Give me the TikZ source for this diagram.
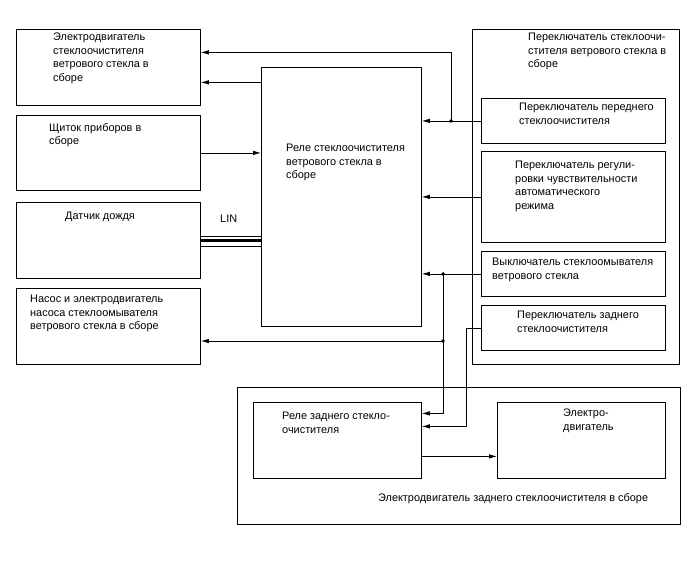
\documentclass[tikz,border=0pt]{standalone}
\usepackage{fontspec}
\setmainfont{Liberation Sans}
\usetikzlibrary{arrows.meta}

\begin{document}
\begin{tikzpicture}[x=1pt, y=-1pt,
  box/.style={draw, line width=0.8pt, anchor=north west, inner sep=0pt},
  txt/.style={anchor=north west, align=left, inner sep=0pt, yshift=-2pt,
              font=\fontsize{10.9}{13.4}\selectfont,
              execute at begin node=\strut},
  wire/.style={line width=0.8pt},
  dot/.style={circle, fill, inner sep=0pt, minimum size=3.8pt},
  >={Latex[length=8pt,width=4.5pt]}]
\useasboundingbox (0,0) rectangle (688,560);
% left column
\node[box, minimum width=184pt, minimum height=76pt] (wipmotor) at (16,29) {};
\node[box, minimum width=184pt, minimum height=75pt] (cluster) at (16,115) {};
\node[box, minimum width=184pt, minimum height=76pt] (rainsens) at (16,202) {};
\node[box, minimum width=184pt, minimum height=76pt] (pump) at (16,288) {};
\node[txt] (wipmotortxt) at (53,31.1)
  {Электродвигатель\\стеклоочистителя\\ветрового стекла в\\сборе};
\node[txt] (clustertxt) at (49,121.1) {Щиток приборов в\\сборе};
\node[txt] (rainsenstxt) at (65,208.1) {Датчик дождя};
\node[txt] (pumptxt) at (30,293.1)
  {Насос и электродвигатель\\насоса стеклоомывателя\\ветрового стекла в сборе};
% relay
\node[box, minimum width=160pt, minimum height=259pt] (relay) at (261,67) {};
\node[txt] (relaytxt) at (286,142.1)
  {Реле стеклоочистителя\\ветрового стекла в\\сборе};
% switch assembly
\node[box, minimum width=207pt, minimum height=335pt] (swgroup) at (472,29) {};
\node[txt] (swgrouptxt) at (528,31.1)
  {Переключатель стеклоочи-\\стителя ветрового стекла в\\сборе};
\node[box, minimum width=184pt, minimum height=45pt] (frontsw) at (481,98) {};
\node[box, minimum width=184pt, minimum height=91pt] (sensw) at (481,151) {};
\node[box, minimum width=184pt, minimum height=45pt] (washsw) at (481,251) {};
\node[box, minimum width=184pt, minimum height=45pt] (rearsw) at (481,305) {};
\node[txt] (frontswtxt) at (519,101.1)
  {Переключатель переднего\\стеклоочистителя};
\node[txt] (senswtxt) at (515,159.1)
  {Переключатель регули-\\ровки чувствительности\\автоматического\\режима};
\node[txt] (washswtxt) at (492,256.1)
  {Выключатель стеклоомывателя\\ветрового стекла};
\node[txt] (rearswtxt) at (517,309.1)
  {Переключатель заднего\\стеклоочистителя};
% rear wiper motor assembly
\node[box, minimum width=443pt, minimum height=137pt] (rearunit) at (237,387) {};
\node[box, minimum width=168pt, minimum height=76pt] (rearrelay) at (253,402) {};
\node[box, minimum width=168pt, minimum height=76pt] (rearmotor) at (497,402) {};
\node[txt] (rearrelaytxt) at (282,410.1) {Реле заднего стекло-\\очистителя};
\node[txt] (rearmotortxt) at (563,407.1) {Электро-\\двигатель};
\node[txt] (rearunittxt) at (378,490.1)
  {Электродвигатель заднего стеклоочистителя в сборе};
% connections
\coordinate (jfront) at (frontsw.west -| 451,0);
\coordinate (jwash) at (washsw.west -| 443,0);
\coordinate (jpump) at (443,341);
\draw[wire,->] (frontsw.west) -- (frontsw.west -| relay.east);
\draw[wire,->] (jfront) |- ([yshift=15pt]wipmotor.east);
\draw[wire,->] ([yshift=-15pt]wipmotor.east -| relay.west) -- ([yshift=-15pt]wipmotor.east);
\draw[wire,->] (cluster.east) -- (cluster.east -| relay.west);
\draw[wire] ([yshift=4.5pt]rainsens.east) -- ([yshift=4.5pt]rainsens.east -| relay.west);
\draw[line width=3.6pt] (rainsens.east) -- (rainsens.east -| relay.west);
\draw[wire] ([yshift=-5.5pt]rainsens.east) -- ([yshift=-5.5pt]rainsens.east -| relay.west);
\node[txt] (lin) at (220,210.6) {LIN};
\draw[wire,->] (sensw.west) -- (sensw.west -| relay.east);
\draw[wire,->] (washsw.west) -- (washsw.west -| relay.east);
\draw[wire,->] (jpump) -- (jpump -| pump.east);
\draw[wire,->] (jwash) |- ([yshift=27pt]rearrelay.east);
\draw[wire,->] (rearsw.west) -- (rearsw.west -| 466,0) |- ([yshift=14pt]rearrelay.east);
\draw[wire,->] ([yshift=-16pt]rearrelay.east) -- ([yshift=-16pt]rearrelay.east -| rearmotor.west);
\node[dot] at (jfront) {};
\node[dot] at (jwash) {};
\node[dot] at (jpump) {};
\end{tikzpicture}
\end{document}
